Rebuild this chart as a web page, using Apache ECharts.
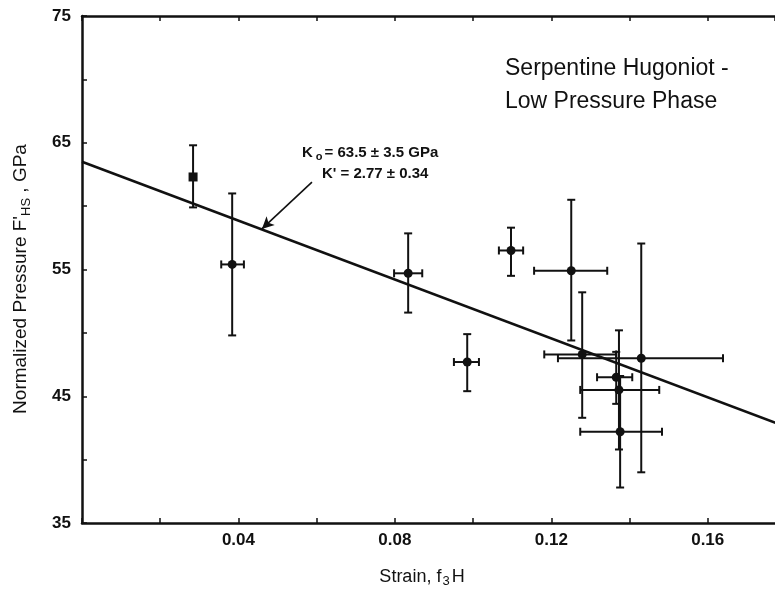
<!DOCTYPE html>
<html><head><meta charset="utf-8">
<script src="https://cdn.jsdelivr.net/npm/echarts@6/dist/echarts.min.js"></script>
<style>html,body{margin:0;padding:0;background:#fff}#c{width:775px;height:593px}</style>
</head><body><div id="c"></div>
<script>
// ---- data ----
const strain       = [0.0284, 0.0384, 0.0834, 0.1097, 0.1251, 0.0985, 0.1279, 0.1430, 0.1366, 0.1373, 0.1376];
const pressure     = [62.3,   55.4,   54.7,   56.5,   54.9,   47.7,   48.3,   48.0,   46.5,   45.5,   42.2];
const strainLow    = [null,   0.0356, 0.0798, 0.1066, 0.1156, 0.0951, 0.1182, 0.1217, 0.1317, 0.1274, 0.1274];
const strainHigh   = [null,   0.0414, 0.0870, 0.1128, 0.1343, 0.1015, 0.1366, 0.1639, 0.1407, 0.1476, 0.1483];
const pressureLow  = [59.9,   49.8,   51.6,   54.5,   49.4,   45.4,   43.3,   39.0,   44.4,   40.8,   37.8];
const pressureHigh = [64.8,   61.0,   57.85,  58.3,   60.5,   49.9,   53.2,   57.05,  48.5,   50.2,   46.6];
const markerShape  = ['rect','circle','circle','circle','circle','circle','circle','circle','circle','circle','circle'];
const fitStrain    = [0, 0.18];
const fitPressure  = [63.5, 42.6];
const arrowTail    = [0.0588, 61.9];
const arrowHead    = [0.0460, 58.2];
const xTickLabels  = ['0.04', '0.08', '0.12', '0.16'];
const yTickLabels  = ['35', '45', '55', '65', '75'];

const FONT = 'Liberation Sans, Arial, Helvetica, sans-serif';
const INK = '#111';

const errData = strain.map((x, i) => [x, pressure[i],
  strainLow[i] == null ? NaN : strainLow[i], strainHigh[i] == null ? NaN : strainHigh[i],
  pressureLow[i], pressureHigh[i]]);

function renderErr(params, api) {
  const x = api.value(0), y = api.value(1);
  const xl = api.value(2), xh = api.value(3), yl = api.value(4), yh = api.value(5);
  const st = {stroke: INK, lineWidth: 2};
  const cap = 4;
  const ch = [];
  const a = api.coord([x, yl]), b = api.coord([x, yh]);
  ch.push({type: 'line', shape: {x1: a[0], y1: a[1], x2: b[0], y2: b[1]}, style: st});
  ch.push({type: 'line', shape: {x1: a[0] - cap, y1: a[1], x2: a[0] + cap, y2: a[1]}, style: st});
  ch.push({type: 'line', shape: {x1: b[0] - cap, y1: b[1], x2: b[0] + cap, y2: b[1]}, style: st});
  if (!isNaN(xl) && !isNaN(xh)) {
    const c = api.coord([xl, y]), d = api.coord([xh, y]);
    ch.push({type: 'line', shape: {x1: c[0], y1: c[1], x2: d[0], y2: d[1]}, style: st});
    ch.push({type: 'line', shape: {x1: c[0], y1: c[1] - cap, x2: c[0], y2: c[1] + cap}, style: st});
    ch.push({type: 'line', shape: {x1: d[0], y1: d[1] - cap, x2: d[0], y2: d[1] + cap}, style: st});
  }
  return {type: 'group', children: ch};
}

const xAxisBase = {
  type: 'value', min: 0, max: 0.1772, interval: 0.02,
  axisLine: {show: true, onZero: false, lineStyle: {color: INK, width: 2.5}},
  axisTick: {show: true, inside: true, length: 5, lineStyle: {color: INK, width: 1.5}},
  splitLine: {show: false}
};

const chart = echarts.init(document.getElementById('c'), null, {renderer: 'canvas'});
chart.setOption({
  backgroundColor: '#fff',
  animation: false,
  grid: {left: 82, top: 16, right: 0, bottom: 70, containLabel: false},
  xAxis: [
    Object.assign({}, xAxisBase, {
      position: 'bottom',
      axisLabel: {
        color: INK, fontFamily: FONT, fontWeight: 'bold', fontSize: 17, margin: 9,
        showMaxLabel: false,
        formatter: v => { const s = v.toFixed(2); return xTickLabels.includes(s) ? s : ''; }
      }
    }),
    Object.assign({}, xAxisBase, {position: 'top', axisLabel: {show: false}})
  ],
  yAxis: {
    type: 'value', min: 35, max: 75, interval: 5,
    axisLine: {show: true, onZero: false, lineStyle: {color: INK, width: 2.5}},
    axisTick: {show: true, inside: true, length: 5, lineStyle: {color: INK, width: 1.5}},
    splitLine: {show: false},
    axisLabel: {
      color: INK, fontFamily: FONT, fontWeight: 'bold', fontSize: 17, margin: 11,
      formatter: v => { const s = String(Math.round(v)); return yTickLabels.includes(s) ? s : ''; }
    }
  },
  series: [
    {
      type: 'line', xAxisIndex: 0, yAxisIndex: 0,
      data: fitStrain.map((x, i) => [x, fitPressure[i]]),
      showSymbol: false, symbol: 'none', clip: true,
      lineStyle: {color: INK, width: 2.5},
      silent: true, z: 3,
      markLine: {
        silent: true, animation: false,
        symbol: ['none', 'arrow'], symbolSize: [9, 12],
        label: {show: false},
        lineStyle: {color: INK, width: 1.6, type: 'solid'},
        data: [[{coord: arrowTail}, {coord: arrowHead}]]
      }
    },
    {
      type: 'custom', xAxisIndex: 0, yAxisIndex: 0,
      renderItem: renderErr,
      encode: {x: [0, 2, 3], y: [1, 4, 5]},
      data: errData, silent: true, z: 4
    },
    {
      type: 'scatter', xAxisIndex: 0, yAxisIndex: 0,
      data: strain.map((x, i) => ({value: [x, pressure[i]], symbol: markerShape[i]})),
      symbolSize: 9,
      itemStyle: {color: INK, opacity: 1},
      silent: true, z: 5
    }
  ],
  graphic: [
    {
      type: 'text', left: 505, top: 52, silent: true,
      style: {text: 'Serpentine Hugoniot -\nLow Pressure Phase', fontSize: 23, lineHeight: 33,
              fontFamily: FONT, fill: INK}
    },
    {
      type: 'text', left: 302, top: 143, silent: true,
      style: {
        text: '{b|K}{s|o}{b|= 63.5 ± 3.5 GPa}',
        rich: {
          b: {fontSize: 15, fontWeight: 'bold', fontFamily: FONT, fill: INK, color: INK, verticalAlign: 'top', lineHeight: 17},
          s: {fontSize: 11, fontWeight: 'bold', fontFamily: FONT, fill: INK, color: INK, verticalAlign: 'bottom', lineHeight: 12, padding: [8, 2, 0, 3]}
        }
      }
    },
    {
      type: 'text', left: 322, top: 166, silent: true,
      style: {text: "K' = 2.77 ± 0.34", fontSize: 15, fontWeight: 'bold', fontFamily: FONT, fill: INK}
    },
    {
      type: 'text', x: 22, y: 279, rotation: Math.PI / 2, silent: true,
      style: {
        text: "{m|Normalized Pressure F'}{s|HS}{m| , GPa}",
        align: 'center', verticalAlign: 'middle', textAlign: 'center', textVerticalAlign: 'middle',
        rich: {
          m: {fontSize: 19, fontFamily: FONT, fill: INK, color: INK, verticalAlign: 'top', lineHeight: 21},
          s: {fontSize: 13, fontFamily: FONT, fill: INK, color: INK, verticalAlign: 'bottom', lineHeight: 14, padding: [11, 0, 0, 0]}
        }
      }
    },
    {
      type: 'text', x: 422, y: 578, silent: true,
      style: {
        text: '{m|Strain, f}{s|3}{m|H}',
        align: 'center', verticalAlign: 'middle', textAlign: 'center', textVerticalAlign: 'middle',
        rich: {
          m: {fontSize: 18, fontFamily: FONT, fill: INK, color: INK, verticalAlign: 'top', lineHeight: 20},
          s: {fontSize: 13, fontFamily: FONT, fill: INK, color: INK, verticalAlign: 'bottom', lineHeight: 14, padding: [10, 2, 0, 1]}
        }
      }
    }
  ]
});
</script>
</body></html>
